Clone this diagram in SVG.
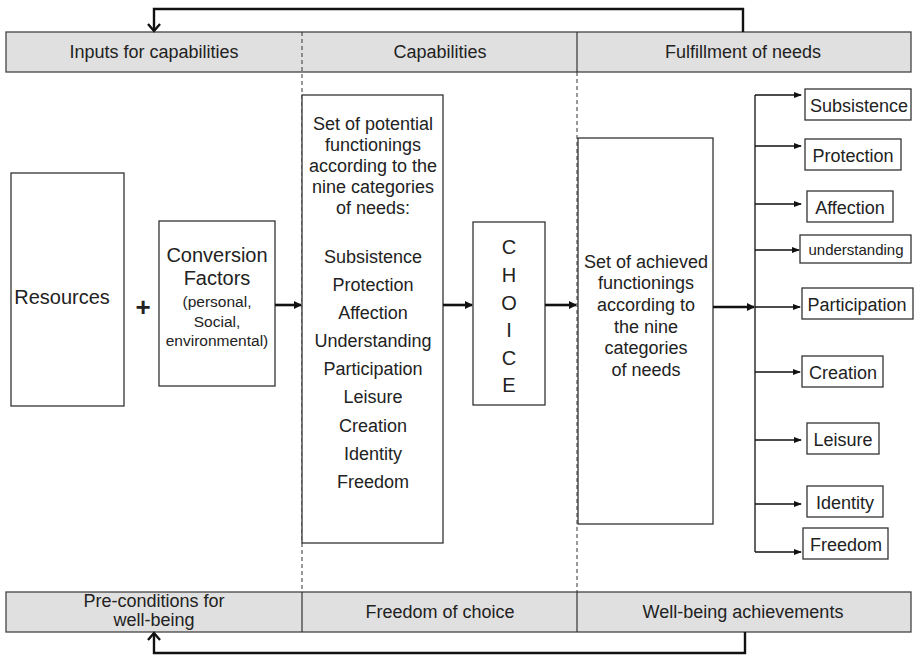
<svg xmlns="http://www.w3.org/2000/svg" width="916" height="656" viewBox="0 0 916 656">
<defs>
<style>
text{font-family:"Liberation Sans",Arial,sans-serif;fill:#222;text-anchor:middle}
.bar{fill:#e0e0e0;stroke:#444;stroke-width:1.3}
.box{fill:#fff;stroke:#333;stroke-width:1.3}
.dash{stroke:#333;stroke-width:1;stroke-dasharray:4 3;fill:none}
.div{stroke:#333;stroke-width:1.2}
.t18{font-size:18px}
.t20{font-size:20px}
.thick{stroke:#111;stroke-width:2.6;fill:none}
.thin{stroke:#111;stroke-width:1.3;fill:none}
.fb{stroke:#111;stroke-width:2.4;fill:none}
</style>
<marker id="ah" markerWidth="8" markerHeight="8" refX="7" refY="4" orient="auto" markerUnits="userSpaceOnUse"><path d="M0,0 L8,4 L0,8 Z" fill="#111"/></marker>
<marker id="ahs" markerWidth="8" markerHeight="8" refX="7" refY="4" orient="auto" markerUnits="userSpaceOnUse"><path d="M0,1 L8,4 L0,7 Z" fill="#111"/></marker>
<marker id="chev" markerWidth="14" markerHeight="14" refX="10" refY="7" orient="auto" markerUnits="userSpaceOnUse"><path d="M3,1 L10,7 L3,13" fill="none" stroke="#111" stroke-width="2.4"/></marker>
</defs>

<g id="header">
<rect class="bar" x="6" y="32" width="905" height="40"/>
<line class="div" x1="577" y1="32" x2="577" y2="72"/>
<text class="t18" x="154" y="58">Inputs for capabilities</text>
<text class="t18" x="440" y="58">Capabilities</text>
<text class="t18" x="743" y="58">Fulfillment of needs</text>
</g>

<g id="footer">
<rect class="bar" x="6" y="592" width="905" height="40"/>
<line class="div" x1="302" y1="592" x2="302" y2="632"/>
<line class="div" x1="577" y1="592" x2="577" y2="632"/>
<text class="t18" x="154" y="607">Pre-conditions for</text>
<text class="t18" x="154" y="626">well-being</text>
<text class="t18" x="440" y="618">Freedom of choice</text>
<text class="t18" x="743" y="618">Well-being achievements</text>
</g>

<g id="dividers">
<line class="dash" x1="302" y1="32" x2="302" y2="592"/>
<line class="dash" x1="577" y1="72" x2="577" y2="592"/>
</g>

<g id="resources">
<rect class="box" x="11" y="173" width="113" height="233"/>
<text class="t20" x="62" y="304">Resources</text>
</g>

<g id="plus"><text x="143" y="316" style="font-size:26px;font-weight:bold">+</text></g>

<g id="conversion">
<rect class="box" x="159" y="221" width="116" height="165"/>
<text class="t20" x="217" y="262">Conversion</text>
<text class="t20" x="217" y="285">Factors</text>
<text x="217" y="307" style="font-size:15.5px">(personal,</text>
<text x="217" y="327" style="font-size:15.5px">Social,</text>
<text x="217" y="346" style="font-size:15.5px">environmental)</text>
</g>

<g id="potential">
<rect class="box" x="302" y="95" width="141" height="448"/>
<text class="t18" x="373" y="130">Set of potential</text>
<text class="t18" x="373" y="151">functionings</text>
<text class="t18" x="373" y="172">according to the</text>
<text class="t18" x="373" y="193">nine categories</text>
<text class="t18" x="373" y="214">of needs:</text>
<text class="t18" x="373" y="263">Subsistence</text>
<text class="t18" x="373" y="291">Protection</text>
<text class="t18" x="373" y="319">Affection</text>
<text class="t18" x="373" y="347">Understanding</text>
<text class="t18" x="373" y="375">Participation</text>
<text class="t18" x="373" y="403">Leisure</text>
<text class="t18" x="373" y="432">Creation</text>
<text class="t18" x="373" y="460">Identity</text>
<text class="t18" x="373" y="488">Freedom</text>
</g>

<g id="choice">
<rect class="box" x="473" y="222" width="72" height="183"/>
<text class="t20" x="509" y="254">C</text>
<text class="t20" x="509" y="282">H</text>
<text class="t20" x="509" y="310">O</text>
<text class="t20" x="509" y="337">I</text>
<text class="t20" x="509" y="365">C</text>
<text class="t20" x="509" y="392">E</text>
</g>

<g id="achieved">
<rect class="box" x="578" y="138" width="135" height="386"/>
<text class="t18" x="646" y="268">Set of achieved</text>
<text class="t18" x="646" y="289">functionings</text>
<text class="t18" x="646" y="311">according to</text>
<text class="t18" x="646" y="333">the nine</text>
<text class="t18" x="646" y="354">categories</text>
<text class="t18" x="646" y="376">of needs</text>
</g>

<g id="n-subsistence"><rect class="box" x="805" y="89" width="106" height="31"/><text class="t18" x="859" y="112">Subsistence</text></g>
<g id="n-protection"><rect class="box" x="805" y="139" width="96" height="31"/><text class="t18" x="853" y="162">Protection</text></g>
<g id="n-affection"><rect class="box" x="807" y="191" width="86" height="31"/><text class="t18" x="850" y="214">Affection</text></g>
<g id="n-understanding"><rect class="box" x="800" y="235" width="111" height="28"/><text x="856" y="255" style="font-size:15px">understanding</text></g>
<g id="n-participation"><rect class="box" x="802" y="288" width="111" height="31"/><text class="t18" x="857" y="311">Participation</text></g>
<g id="n-creation"><rect class="box" x="802" y="356" width="81" height="31"/><text class="t18" x="843" y="379">Creation</text></g>
<g id="n-leisure"><rect class="box" x="807" y="423" width="72" height="31"/><text class="t18" x="843" y="446">Leisure</text></g>
<g id="n-identity"><rect class="box" x="807" y="486" width="76" height="31"/><text class="t18" x="845" y="509">Identity</text></g>
<g id="n-freedom"><rect class="box" x="803" y="528" width="85" height="31"/><text class="t18" x="846" y="551">Freedom</text></g>

<g id="connectors">
<line class="thick" x1="275" y1="305" x2="301" y2="305" marker-end="url(#ah)"/>
<line class="thick" x1="443" y1="305" x2="472" y2="305" marker-end="url(#ah)"/>
<line class="thick" x1="545" y1="305" x2="576" y2="305" marker-end="url(#ah)"/>
<line class="thick" x1="713" y1="307" x2="754" y2="307" marker-end="url(#ah)"/>
<line class="thin" x1="755" y1="95" x2="755" y2="552"/>
<line class="thin" x1="755" y1="95" x2="801" y2="95" marker-end="url(#ahs)"/>
<line class="thin" x1="755" y1="146" x2="801" y2="146" marker-end="url(#ahs)"/>
<line class="thin" x1="755" y1="204" x2="801" y2="204" marker-end="url(#ahs)"/>
<line class="thin" x1="755" y1="250" x2="799" y2="250" marker-end="url(#ahs)"/>
<line class="thin" x1="755" y1="307" x2="800" y2="307" marker-end="url(#ahs)"/>
<line class="thin" x1="755" y1="372" x2="800" y2="372" marker-end="url(#ahs)"/>
<line class="thin" x1="755" y1="440" x2="801" y2="440" marker-end="url(#ahs)"/>
<line class="thin" x1="755" y1="504" x2="801" y2="504" marker-end="url(#ahs)"/>
<line class="thin" x1="755" y1="552" x2="801" y2="552" marker-end="url(#ahs)"/>
<polyline class="fb" points="743,32 743,9 154,9 154,31" marker-end="url(#chev)"/>
<polyline class="fb" points="745,632 745,653 154,653 154,633" marker-end="url(#chev)"/>
</g>
</svg>
